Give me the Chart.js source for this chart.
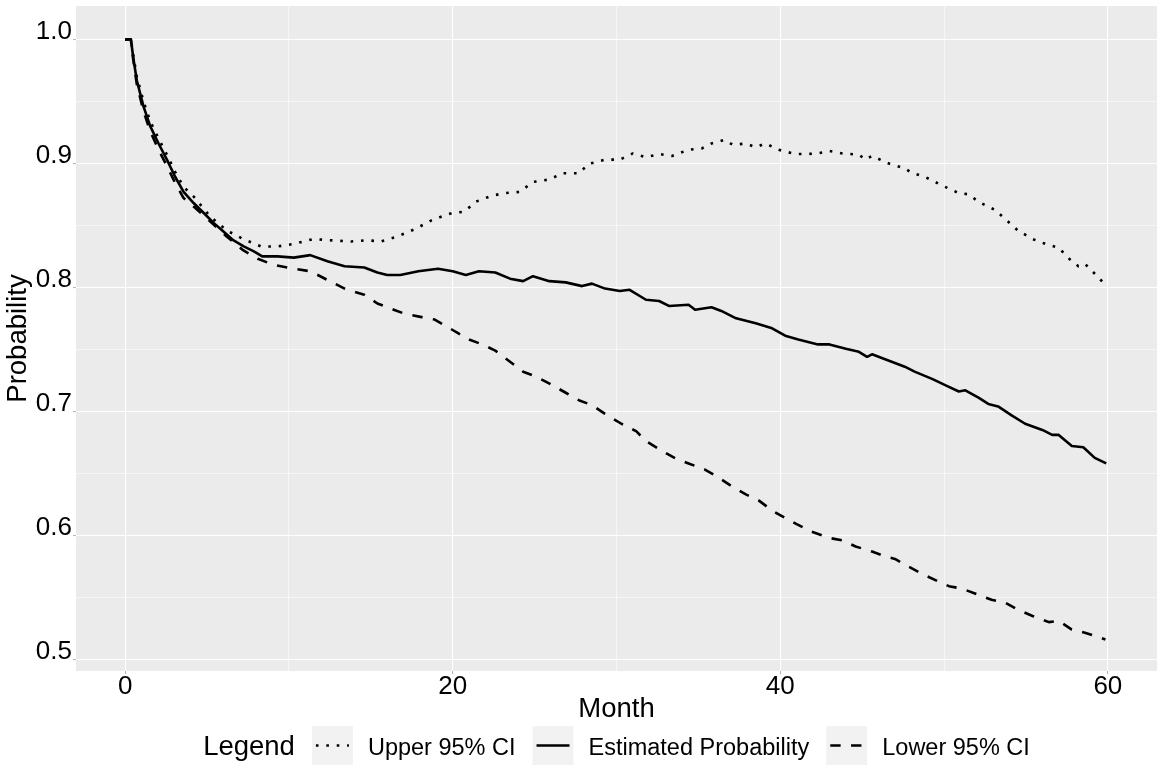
<!DOCTYPE html>
<html><head><meta charset="utf-8">
<script src="https://cdn.jsdelivr.net/npm/chart.js@4.4.1/dist/chart.umd.min.js"></script>
<style>html,body{margin:0;padding:0;background:#fff;overflow:hidden}#wrap{width:1157px;height:765px;position:relative}</style>
</head><body><div id="wrap"><canvas id="c" width="1157" height="765"></canvas></div>
<script>
const FONT = '"Liberation Sans", Arial, Helvetica, sans-serif';

// ---- data ----
const estMonths = [0,0.35,0.5,0.71,1.12,1.53,2.04,2.55,3.06,3.57,4.18,4.8,5.4,6.0,6.6,7.24,7.86,8.37,9.3,10.3,11.3,12.35,13.4,14.6,15.4,16.0,16.8,17.9,19.1,20.0,20.8,21.6,22.6,23.5,24.3,24.9,25.9,26.9,27.9,28.5,29.3,30.2,30.8,31.8,32.6,33.2,34.4,34.8,35.8,36.4,37.3,38.5,39.5,40.3,41.1,42.3,43.0,44.0,44.8,45.3,45.6,46.4,47.6,48.2,49.3,50.1,50.9,51.3,52.1,52.7,53.3,54.1,54.95,56.0,56.6,57.0,57.8,58.5,59.2,59.9];
const estValues = [1.000,1.000,0.985,0.967,0.946,0.930,0.916,0.903,0.889,0.877,0.868,0.860,0.852,0.845,0.838,0.833,0.829,0.825,0.825,0.824,0.826,0.821,0.817,0.816,0.812,0.810,0.810,0.813,0.815,0.813,0.810,0.813,0.812,0.807,0.805,0.809,0.805,0.804,0.801,0.803,0.799,0.797,0.798,0.790,0.789,0.785,0.786,0.782,0.784,0.781,0.775,0.771,0.767,0.761,0.758,0.754,0.754,0.7505,0.748,0.744,0.746,0.742,0.736,0.732,0.726,0.721,0.716,0.717,0.711,0.706,0.704,0.697,0.690,0.685,0.681,0.681,0.672,0.671,0.6625,0.658];

const upperMonths = [0,0.35,0.5,0.71,1.12,1.53,2.04,2.55,3.06,3.57,4.2,5.2,6.2,7.2,8.3,9.3,10.3,11.5,12.5,13.8,14.8,15.6,16.6,17.7,18.7,19.5,20.0,20.7,21.4,22.4,23.2,24.1,24.9,25.9,26.7,27.7,28.3,29.3,30.2,31.0,31.8,32.6,33.4,34.4,35.2,35.8,36.6,37.1,37.9,38.5,39.1,39.9,40.9,41.5,42.3,43.0,43.8,44.8,45.2,45.6,46.6,47.6,48.0,48.85,49.9,50.9,51.5,52.1,53.1,53.7,54.5,55.4,56.2,57.0,57.6,58.2,58.6,59.2,59.85];
const upperValues = [1.000,1.000,0.987,0.970,0.950,0.934,0.920,0.907,0.893,0.881,0.873,0.857,0.846,0.839,0.833,0.833,0.835,0.839,0.838,0.837,0.838,0.837,0.841,0.847,0.854,0.858,0.860,0.861,0.869,0.874,0.876,0.877,0.885,0.887,0.892,0.892,0.8995,0.903,0.903,0.908,0.905,0.9075,0.906,0.911,0.912,0.916,0.919,0.915,0.916,0.913,0.916,0.911,0.9075,0.9075,0.908,0.910,0.908,0.907,0.903,0.906,0.900,0.896,0.8925,0.889,0.882,0.876,0.875,0.869,0.8625,0.8555,0.846,0.839,0.835,0.832,0.8235,0.817,0.819,0.811,0.802];

const lowerMonths = [0,0.35,0.5,0.71,1.12,1.53,2.04,2.55,3.06,3.57,4.2,5.2,6.2,7.2,8.1,9.1,10.3,11.3,12.35,13.4,14.6,15.4,16.4,17.0,18.1,18.9,19.7,20.2,21.0,21.8,22.6,23.5,24.3,25.1,26.1,26.9,27.7,28.5,29.3,30.3,31.2,31.8,32.8,33.6,34.4,35.4,36.2,37.1,37.9,38.7,39.5,40.3,41.0,41.9,42.95,43.8,44.6,45.6,46.4,47.0,47.8,48.65,49.7,50.3,51.1,52.1,52.9,53.7,54.5,55.4,56.4,57.0,57.8,58.6,59.85];
const lowerValues = [1.000,1.000,0.983,0.964,0.942,0.926,0.911,0.898,0.884,0.872,0.865,0.853,0.841,0.830,0.823,0.818,0.815,0.813,0.806,0.799,0.794,0.787,0.782,0.779,0.776,0.774,0.768,0.764,0.758,0.754,0.749,0.740,0.732,0.728,0.721,0.715,0.709,0.705,0.698,0.690,0.684,0.676,0.668,0.662,0.658,0.653,0.647,0.639,0.633,0.628,0.620,0.614,0.609,0.603,0.598,0.596,0.591,0.587,0.583,0.581,0.575,0.569,0.5625,0.559,0.557,0.552,0.548,0.546,0.540,0.535,0.530,0.531,0.524,0.5215,0.516];

const seriesLabels = ['Upper 95% CI','Estimated Probability','Lower 95% CI'];
const xTickValues = [0,10,20,30,40,50,60];
const xTickLabels = ['0','','20','','40','','60'];
const yTickValues = [0.5,0.55,0.6,0.65,0.7,0.75,0.8,0.85,0.9,0.95,1.0];
const yTickLabels = ['0.5','','0.6','','0.7','','0.8','','0.9','','1.0'];
const legendTitle = 'Legend';

const toPts = (xs, ys) => xs.map((x, i) => ({x: x, y: ys[i]}));

const panelBg = {
  id: 'panelBg',
  beforeDraw(chart) {
    const {ctx, chartArea: a} = chart;
    ctx.save();
    ctx.fillStyle = '#EBEBEB';
    ctx.fillRect(a.left, a.top, a.right - a.left, a.bottom - a.top);
    ctx.restore();
  }
};

const ggLegend = {
  id: 'ggLegend',
  afterDraw(chart) {
    const ctx = chart.ctx, a = chart.chartArea;
    ctx.save();
    const titleFont = '27.5px ' + FONT, labFont = '23.5px ' + FONT;
    ctx.font = titleFont;
    const tw = ctx.measureText(legendTitle).width;
    ctx.font = labFont;
    const items = chart.data.datasets.map(d => ({label: d.label, dash: d.borderDash || [], lw: d.borderWidth, w: ctx.measureText(d.label).width}));
    const keyW = 41, gapTK = 17, gapKL = 15, gapLK = 17;
    let total = tw + gapTK;
    items.forEach((it, i) => { total += keyW + gapKL + it.w + (i < items.length - 1 ? gapLK : 0); });
    let x = (a.left + a.right) / 2 - total / 2;
    const top = 726, h = 40, base = 755, lineY = 745.5;
    ctx.fillStyle = '#000'; ctx.textAlign = 'left'; ctx.textBaseline = 'alphabetic';
    ctx.font = titleFont;
    ctx.fillText(legendTitle, x, base);
    x += tw + gapTK;
    items.forEach(it => {
      ctx.fillStyle = '#F2F2F2';
      ctx.fillRect(x, top, keyW, h);
      ctx.strokeStyle = '#000'; ctx.lineWidth = it.lw; ctx.lineCap = 'butt';
      ctx.setLineDash(it.dash);
      ctx.beginPath(); ctx.moveTo(x + 4, lineY); ctx.lineTo(x + keyW - 4, lineY); ctx.stroke();
      ctx.setLineDash([]);
      x += keyW + gapKL;
      ctx.fillStyle = '#000'; ctx.font = labFont;
      ctx.fillText(it.label, x, base);
      x += it.w + gapLK;
    });
    ctx.restore();
  }
};

const isMajorX = v => xTickLabels[xTickValues.indexOf(v)] !== '';
const isMajorY = v => { const i = yTickValues.findIndex(t => Math.abs(t - v) < 1e-9); return i >= 0 && yTickLabels[i] !== ''; };

const LW = 2.6;
new Chart(document.getElementById('c'), {
  type: 'line',
  data: {
    datasets: [
      {label: seriesLabels[0], data: toPts(upperMonths, upperValues), borderDash: [LW, LW * 3]},
      {label: seriesLabels[1], data: toPts(estMonths, estValues), borderDash: []},
      {label: seriesLabels[2], data: toPts(lowerMonths, lowerValues), borderDash: [LW * 4, LW * 4]}
    ].map(d => Object.assign(d, {borderColor: '#000', borderWidth: LW, pointRadius: 0, fill: false, tension: 0, borderCapStyle: 'butt', borderJoinStyle: 'round'}))
  },
  options: {
    responsive: false, animation: false, devicePixelRatio: 1,
    layout: {padding: {top: 6, left: 0, right: 0, bottom: 39}, autoPadding: false},
    plugins: {legend: {display: false}, tooltip: {enabled: false}},
    scales: {
      x: {
        type: 'linear', min: -3, max: 63,
        afterBuildTicks: s => { s.ticks = xTickValues.map(v => ({value: v})); },
        afterFit: s => { s.height = 55; s.paddingLeft = 0; s.paddingRight = 0; },
        ticks: {autoSkip: false, maxRotation: 0, padding: 0, color: '#000',
          font: {family: FONT, size: 26, lineHeight: 1},
          callback: v => { const i = xTickValues.indexOf(v); return i >= 0 ? xTickLabels[i] : ''; }},
        grid: {color: '#FFFFFF', lineWidth: c => (c.tick && isMajorX(c.tick.value)) ? 1.1 : 0.55,
          drawTicks: true, tickLength: 3,
          tickColor: c => (c.tick && isMajorX(c.tick.value)) ? '#b5b5b5' : 'rgba(0,0,0,0)'},
        border: {display: false},
        title: {display: true, text: 'Month', color: '#000', font: {family: FONT, size: 27.5}, padding: {top: 0, bottom: 0}}
      },
      y: {
        type: 'linear', min: 0.4906, max: 1.0269,
        afterBuildTicks: s => { s.ticks = yTickValues.map(v => ({value: v})); },
        afterFit: s => { s.width = 76; s.paddingTop = 0; s.paddingBottom = 0; },
        ticks: {autoSkip: false, padding: 1, labelOffset: -8, color: '#000',
          font: {family: FONT, size: 26},
          callback: v => { const i = yTickValues.findIndex(t => Math.abs(t - v) < 1e-9); return i >= 0 ? yTickLabels[i] : ''; }},
        grid: {color: '#FFFFFF', lineWidth: c => (c.tick && isMajorY(c.tick.value)) ? 1.1 : 0.55,
          drawTicks: true, tickLength: 3,
          tickColor: c => (c.tick && isMajorY(c.tick.value)) ? '#b5b5b5' : 'rgba(0,0,0,0)'},
        border: {display: false},
        title: {display: true, text: 'Probability', color: '#000', font: {family: FONT, size: 27.5}, padding: {top: 2, bottom: 0}}
      }
    }
  },
  plugins: [panelBg, ggLegend]
});
</script></body></html>
